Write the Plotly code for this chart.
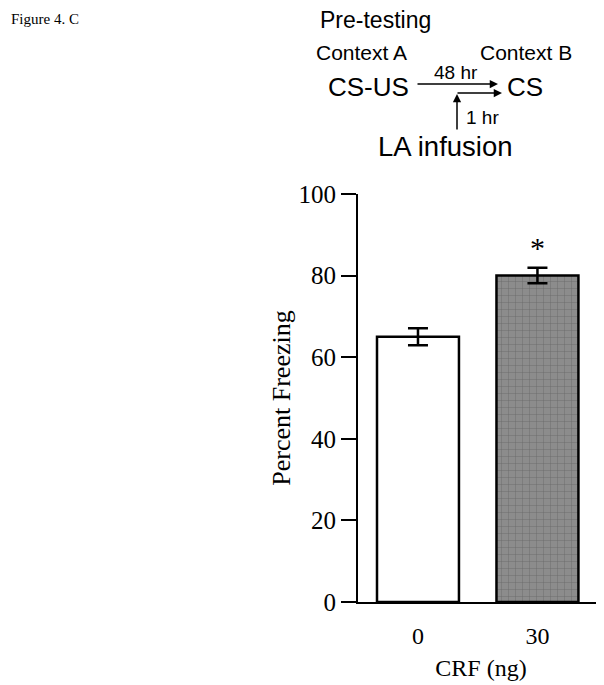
import plotly.graph_objects as go

categories = ["0", "30"]
freezing = [65, 80]
sem = [2.1, 1.9]
y_ticks = [0, 20, 40, 60, 80, 100]
x_title = "CRF (ng)"
y_title = "Percent Freezing"

# page body has an 8px margin; figure is sized so the page is 604x685
OFF = 8
W, H = 604 - OFF, 685 - OFF
L, R, T, B = 358 - OFF, 0, 194 - OFF, 83
PW, PH = W - L - R, H - T - B

def px(x):
    return (x - OFF - L) / PW

def py(y):
    return (H - B - (y - OFF)) / PH

SERIF = "Liberation Serif"
SANS = "Liberation Sans"

fig = go.Figure()
fig.add_trace(go.Bar(
    x=[0, 1], y=freezing, width=0.686,
    marker=dict(
        color=["white", "#8c8c8c"],
        line=dict(color="black", width=2.5),
        pattern=dict(shape=["", "+"], fgcolor="#b4b4b4", bgcolor="#8a8a8a", size=7, solidity=0.12),
    ),
    error_y=dict(type="data", array=sem, color="black", thickness=2.5, width=10),
    showlegend=False,
))

ann = []
def text(x, y, s, size, font=SANS, xanchor="center", yanchor="middle"):
    ann.append(dict(x=px(x), y=py(y), xref="paper", yref="paper", text=s, showarrow=False,
                    xanchor=xanchor, yanchor=yanchor, font=dict(family=font, size=size, color="black")))

text(9, 9, "Figure 4. C", 15, SERIF, "left", "top")
text(375, 20, "Pre-testing", 23)
text(361, 53, "Context A", 21)
text(526, 53, "Context B", 21)
text(368, 87, "CS-US", 26)
text(456, 73, "48 hr", 19)
text(525, 87, "CS", 26)
text(482, 117, "1 hr", 19)
text(445, 146, "LA infusion", 27.5)

def arrow(hx, hy, tx, ty):
    ann.append(dict(x=px(hx), y=py(hy), xref="paper", yref="paper", ax=tx - hx, ay=ty - hy,
                    showarrow=True, arrowhead=2, arrowsize=1.1, arrowwidth=1.5, arrowcolor="black", text=""))

arrow(498, 84, 416, 84)
arrow(502, 93, 456, 93)
arrow(457, 94, 457, 131)

# significance marker
ann.append(dict(x=1, y=87.0, xref="x", yref="y", text="*", showarrow=False,
                font=dict(family=SERIF, size=30, color="black"), yanchor="middle"))

fig.update_layout(
    width=W, height=H,
    margin=dict(l=L, r=R, t=T, b=B, autoexpand=False),
    paper_bgcolor="white", plot_bgcolor="white",
    annotations=ann,
    xaxis=dict(range=[-0.502, 1.557], tickvals=[0, 1], ticktext=categories, showline=True,
               linecolor="black", linewidth=2, ticks="", showgrid=False, zeroline=False,
               ticklabelstandoff=11,
               tickfont=dict(family=SERIF, size=24, color="black"),
               title=dict(text=x_title, font=dict(family=SERIF, size=24, color="black"), standoff=11)),
    yaxis=dict(range=[0, 100], tickvals=y_ticks, showline=True, linecolor="black", linewidth=2,
               ticks="outside", ticklen=15, tickwidth=2, tickcolor="black", showgrid=False, zeroline=False,
               tickfont=dict(family=SERIF, size=25, color="black"),
               title=dict(text=y_title, font=dict(family=SERIF, size=26, color="black"), standoff=0)),
)

fig.write_html("out.html")
